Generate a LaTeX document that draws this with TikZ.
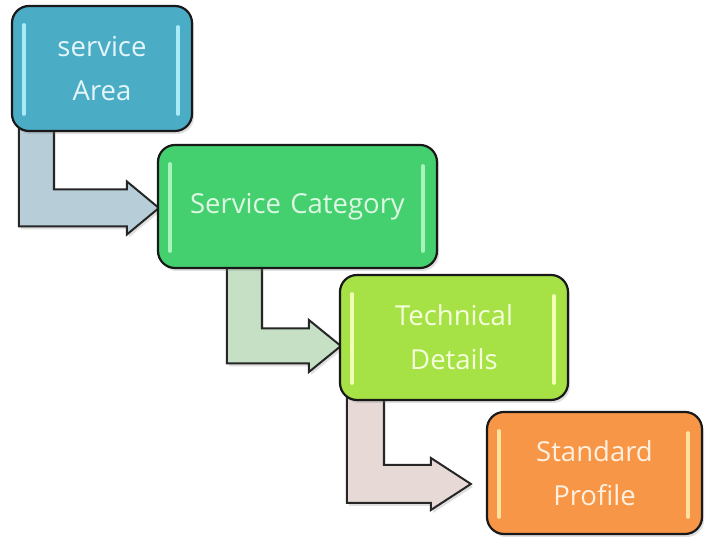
\documentclass[tikz,border=0pt]{standalone}
\usepackage{fontspec}
\setmainfont{Open Sans}
\usetikzlibrary{calc,shadows}
\pgfdeclarelayer{background}
\pgfsetlayers{background,main}
\definecolor{c1}{HTML}{4BACC6}
\definecolor{c2}{HTML}{45D070}
\definecolor{c3}{HTML}{A6E245}
\definecolor{c4}{HTML}{F79646}
\definecolor{g1}{HTML}{A8ECF8}
\definecolor{g2}{HTML}{A8F4BC}
\definecolor{g3}{HTML}{F0FFB4}
\definecolor{g4}{HTML}{FFE2A0}
\definecolor{t1}{HTML}{E4F6FA}
\definecolor{t2}{HTML}{DDF8E2}
\definecolor{t3}{HTML}{F4FFDC}
\definecolor{t4}{HTML}{FFF0E0}
\definecolor{a1}{HTML}{B7CED9}
\definecolor{a2}{HTML}{C5E0C5}
\definecolor{a3}{HTML}{E6D9D6}
\tikzset{
  box/.style={draw=black!90, line width=2.2pt, rounded corners=17pt,
    drop shadow={opacity=0.25, shadow xshift=2pt, shadow yshift=-3pt},
    align=center, inner sep=0pt, font=\fontsize{27.5}{44}\selectfont},
  barrow/.style={draw=black!85, line width=2pt, line join=miter,
    drop shadow={opacity=0.25, shadow xshift=2pt, shadow yshift=-3pt}},
  gloss/.style={line width=3.5pt, line cap=round},
}
\newcommand\bentarrow[7]{%
  \draw[barrow,#7] let \p1=(#1), \p2=(#2) in
    (\x1, \y1+15pt) -- (\x1, \y2-#4) -- (\x2-#6, \y2-#4) -- (\x2-#6, \y2-#5)
    -- (\x2, \y2) -- (\x2-#6, \y2+#5) -- (\x2-#6, \y2+#4) -- (\x1+#3, \y2+#4)
    -- (\x1+#3, \y1+15pt) -- cycle;}
\newcommand\glossbars[2]{%
  \draw[gloss,#2] ($(#1.north west)+(13,-20)$) -- ($(#1.south west)+(13,18)$);
  \draw[gloss,#2] ($(#1.north east)+(-15,-22)$) -- ($(#1.south east)+(-15,18)$);}
\begin{document}
\begin{tikzpicture}[x=1pt,y=1pt]
\useasboundingbox (0,0) rectangle (705,537);
\node[box, fill=c1, text=t1, minimum width=180pt, minimum height=125pt] (b1) at (102,468.5) {service\\Area};
\node[box, fill=c2, text=t2, minimum width=279pt, minimum height=123pt] (b2) at (297.5,330.5) {Service\,\,Category};
\node[box, fill=c3, text=t3, minimum width=228pt, minimum height=125pt] (b3) at (454,199.5) {Technical\\Details};
\node[box, fill=c4, text=t4, minimum width=215pt, minimum height=122pt] (b4) at (594.5,64) {Standard\\Profile};
\glossbars{b1}{g1}
\glossbars{b2}{g2}
\glossbars{b3}{g3}
\glossbars{b4}{g4}
\begin{pgfonlayer}{background}
\bentarrow{$(b1.south west)+(8,0)$}{$(b2.west)+(2,-1.5)$}{35pt}{18.5pt}{26.5pt}{32pt}{fill=a1}
\bentarrow{$(b2.south west)+(70,0)$}{$(b3.west)+(2,-8.5)$}{35pt}{17.5pt}{26pt}{32pt}{fill=a2}
\bentarrow{$(b3.south west)+(8,0)$}{$(b4.west)+(-15,-11)$}{37pt}{19pt}{26pt}{40pt}{fill=a3}
\end{pgfonlayer}
\end{tikzpicture}
\end{document}
